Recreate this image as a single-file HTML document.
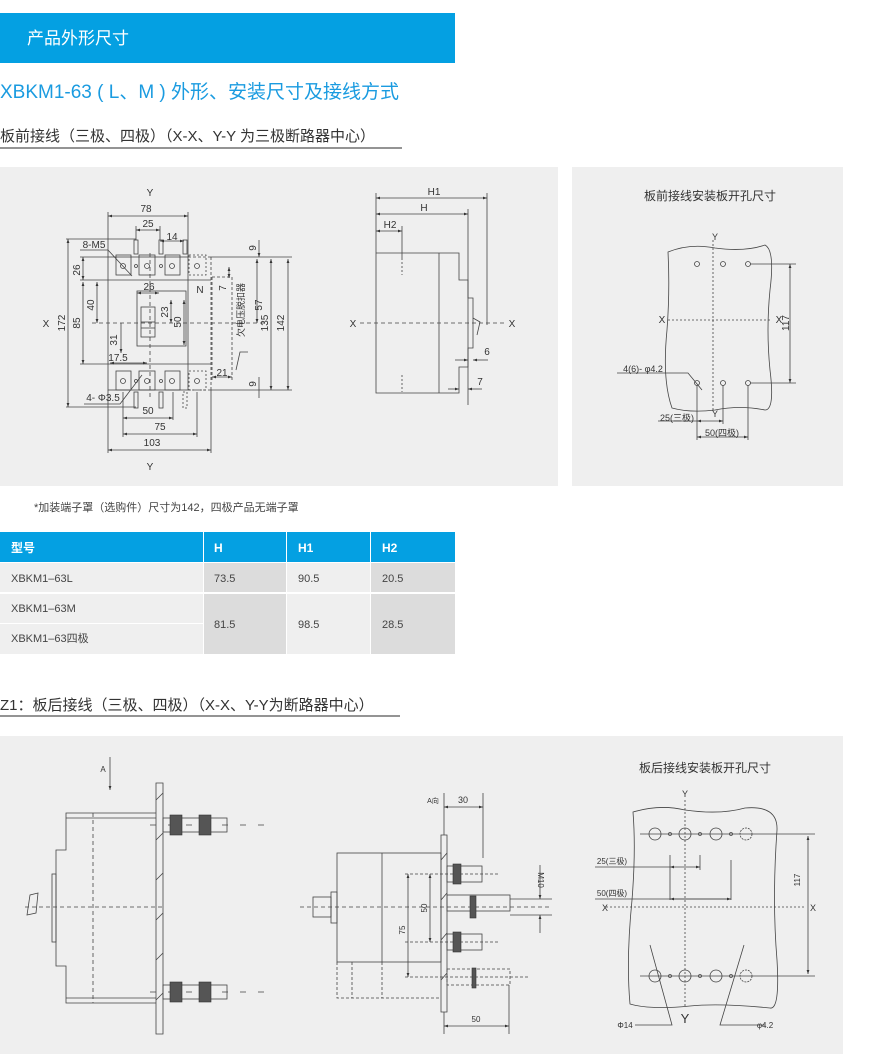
<!DOCTYPE html>
<html><head><meta charset="utf-8"><style>
html,body{margin:0;padding:0;background:#fff;}
svg{display:block;font-family:"Liberation Sans","Noto Sans CJK SC",sans-serif;}
</style></head><body>
<svg width="882" height="1056" viewBox="0 0 882 1056" xmlns="http://www.w3.org/2000/svg">
<defs>
<marker id="a" viewBox="0 0 10 10" refX="10" refY="5" markerWidth="5" markerHeight="5" orient="auto-start-reverse"><path d="M0,1.5L10,5L0,8.5z" fill="#333"/></marker>
</defs>
<rect x="0" y="13" width="455" height="50" fill="#04a0e2"/>
<text x="27" y="44" font-size="17" fill="#fff">产品外形尺寸</text>
<text x="0" y="98" font-size="19" fill="#1a9be0">XBKM1-63 ( L、M ) 外形、安装尺寸及接线方式</text>
<text x="0" y="141" font-size="15" fill="#333">板前接线（三极、四极）（X-X、Y-Y 为三极断路器中心）</text>
<line x1="0" y1="148" x2="402" y2="148" stroke="#555" stroke-width="1.2"/>

<rect x="0" y="167" width="558" height="319" fill="#efefef"/>
<rect x="572" y="167" width="271" height="319" fill="#efefef"/>
<rect x="0" y="736" width="843" height="318" fill="#efefef"/>

<g stroke="#444" stroke-width="0.8" fill="none">
<rect x="108" y="257" width="80" height="133"/>
<line x1="188" y1="257" x2="211" y2="257" stroke-dasharray="3,2"/>
<line x1="188" y1="390" x2="211" y2="390" stroke-dasharray="3,2"/>
<line x1="211" y1="257" x2="211" y2="390" stroke-dasharray="3,2"/>
<line x1="108" y1="280" x2="211" y2="280"/>
<line x1="108" y1="364" x2="211" y2="364"/>
<rect x="116" y="255" width="15" height="20"/><rect x="139" y="255" width="16" height="20"/><rect x="165" y="255" width="15" height="20"/>
<rect x="189" y="255" width="17" height="20" stroke-dasharray="2,2"/>
<rect x="116" y="371" width="15" height="19"/><rect x="139" y="371" width="16" height="19"/><rect x="165" y="371" width="15" height="19"/>
<rect x="189" y="371" width="17" height="19" stroke-dasharray="2,2"/>
<circle cx="123" cy="266" r="2.5"/><circle cx="147" cy="266" r="2.5"/><circle cx="172" cy="266" r="2.5"/><circle cx="197" cy="266" r="2.5"/>
<circle cx="123" cy="381" r="2.5"/><circle cx="147" cy="381" r="2.5"/><circle cx="172" cy="381" r="2.5"/><circle cx="197" cy="381" r="2.5"/>
<circle cx="136" cy="266" r="1.5"/><circle cx="161" cy="266" r="1.5"/><circle cx="136" cy="381" r="1.5"/><circle cx="161" cy="381" r="1.5"/>
<rect x="134" y="240" width="4" height="14"/><rect x="159" y="240" width="4" height="14"/><rect x="183" y="240" width="4" height="14"/>
<rect x="134" y="392" width="4" height="16"/><rect x="159" y="392" width="4" height="16"/><rect x="183" y="392" width="4" height="16" stroke-dasharray="2,2"/>
<rect x="137" y="291" width="49" height="55"/>
<rect x="141" y="307" width="14" height="30"/>
<line x1="141" y1="322" x2="155" y2="322"/><line x1="141" y1="328" x2="155" y2="328"/>
<line x1="212" y1="277" x2="212" y2="380" stroke-dasharray="3,2"/>
<line x1="232" y1="277" x2="232" y2="380" stroke-dasharray="3,2"/>
<line x1="212" y1="277" x2="232" y2="277" stroke-dasharray="3,2"/>
<line x1="92" y1="323" x2="268" y2="323" stroke-dasharray="4,3"/>
<line x1="150" y1="253" x2="150" y2="400" stroke-dasharray="4,3"/>
<line x1="108" y1="212" x2="108" y2="257"/><line x1="188" y1="212" x2="188" y2="257"/>
<line x1="108" y1="216" x2="188" y2="216" marker-start="url(#a)" marker-end="url(#a)"/>
<line x1="136" y1="226" x2="136" y2="240"/><line x1="160" y1="226" x2="160" y2="240"/>
<line x1="136" y1="230" x2="160" y2="230" marker-start="url(#a)" marker-end="url(#a)"/>
<line x1="160" y1="241" x2="184" y2="241" marker-start="url(#a)" marker-end="url(#a)"/>
<line x1="66" y1="239" x2="136" y2="239"/><line x1="66" y1="407" x2="136" y2="407"/>
<line x1="68" y1="239" x2="68" y2="407" marker-start="url(#a)" marker-end="url(#a)"/>
<line x1="80" y1="257" x2="108" y2="257"/><line x1="80" y1="280" x2="108" y2="280"/><line x1="80" y1="364" x2="108" y2="364"/>
<line x1="83" y1="257" x2="83" y2="280" marker-start="url(#a)" marker-end="url(#a)"/>
<line x1="83" y1="282" x2="83" y2="364" marker-start="url(#a)" marker-end="url(#a)"/>
<line x1="97" y1="282" x2="97" y2="323" marker-start="url(#a)" marker-end="url(#a)"/>
<line x1="121" y1="323" x2="121" y2="353" marker-end="url(#a)"/>
<line x1="110" y1="363" x2="147" y2="363" marker-start="url(#a)" marker-end="url(#a)"/>
<line x1="171" y1="300" x2="171" y2="323" marker-start="url(#a)" marker-end="url(#a)"/>
<line x1="184" y1="300" x2="184" y2="345" marker-start="url(#a)" marker-end="url(#a)"/>
<line x1="137" y1="293" x2="159" y2="293" marker-start="url(#a)" marker-end="url(#a)"/>
<line x1="259" y1="240" x2="259" y2="257" marker-end="url(#a)"/>
<line x1="211" y1="257" x2="292" y2="257"/><line x1="211" y1="390" x2="292" y2="390"/>
<line x1="229" y1="267" x2="229" y2="278" marker-start="url(#a)" marker-end="url(#a)"/>
<line x1="257" y1="259" x2="257" y2="323" marker-start="url(#a)" marker-end="url(#a)"/>
<line x1="271" y1="259" x2="271" y2="390" marker-start="url(#a)" marker-end="url(#a)"/>
<line x1="288" y1="259" x2="288" y2="390" marker-start="url(#a)" marker-end="url(#a)"/>
<line x1="259" y1="377" x2="259" y2="398"/>
<line x1="212" y1="377" x2="232" y2="377" marker-start="url(#a)" marker-end="url(#a)"/>
<line x1="123" y1="392" x2="123" y2="437"/><line x1="173" y1="392" x2="173" y2="420"/><line x1="197" y1="392" x2="197" y2="437"/>
<line x1="108" y1="390" x2="108" y2="453"/><line x1="211" y1="390" x2="211" y2="453"/>
<line x1="123" y1="418" x2="173" y2="418" marker-start="url(#a)" marker-end="url(#a)"/>
<line x1="123" y1="434" x2="197" y2="434" marker-start="url(#a)" marker-end="url(#a)"/>
<line x1="108" y1="450" x2="211" y2="450" marker-start="url(#a)" marker-end="url(#a)"/>
<polyline points="80,250 108,250 132,276"/>
<polyline points="84,404 120,404 142,375"/>
<polyline points="248,352 240,352 236,370"/>

<polyline points="376,253 459,253 459,280 468,280 468,298 473,298 473,348 468,348 468,367 459,367 459,393 376,393 376,253"/>
<line x1="439" y1="253" x2="439" y2="393"/>
<line x1="402" y1="258" x2="402" y2="275" stroke-dasharray="2,2"/>
<line x1="402" y1="375" x2="402" y2="392" stroke-dasharray="2,2"/>
<polyline points="473,318 480,322 477,335"/>
<line x1="360" y1="323" x2="505" y2="323" stroke-dasharray="4,3"/>
<line x1="376" y1="193" x2="376" y2="253"/><line x1="487" y1="193" x2="487" y2="325"/><line x1="468" y1="209" x2="468" y2="405"/><line x1="402" y1="226" x2="402" y2="258"/>
<line x1="376" y1="198" x2="487" y2="198" marker-start="url(#a)" marker-end="url(#a)"/>
<line x1="376" y1="214" x2="468" y2="214" marker-start="url(#a)" marker-end="url(#a)"/>
<line x1="376" y1="231" x2="402" y2="231" marker-start="url(#a)" marker-end="url(#a)"/>
<line x1="455" y1="360" x2="468" y2="360" marker-end="url(#a)"/><line x1="473" y1="360" x2="488" y2="360" marker-start="url(#a)"/>
<line x1="448" y1="389" x2="459" y2="389" marker-end="url(#a)"/><line x1="468" y1="389" x2="482" y2="389" marker-start="url(#a)"/>

<path d="M668,252 Q690,243 715,248 Q745,252 765,245 Q775,250 770,290 Q766,330 770,370 Q775,410 765,410 Q740,405 715,410 Q690,413 672,408 Q662,380 667,330 Q670,290 668,252z"/>
<line x1="713" y1="240" x2="713" y2="412" stroke-dasharray="2,2"/>
<line x1="668" y1="320" x2="772" y2="320" stroke-dasharray="2,2"/>
<circle cx="697" cy="264" r="2.5"/><circle cx="723" cy="264" r="2.5"/><circle cx="748" cy="264" r="2.5"/>
<circle cx="697" cy="383" r="2.5"/><circle cx="723" cy="383" r="2.5"/><circle cx="748" cy="383" r="2.5"/>
<line x1="750" y1="264" x2="796" y2="264"/><line x1="750" y1="383" x2="796" y2="383"/>
<line x1="790" y1="264" x2="790" y2="383" marker-start="url(#a)" marker-end="url(#a)"/>
<polyline points="617,373 688,373 702,390"/>
<line x1="697" y1="385" x2="697" y2="440"/><line x1="723" y1="385" x2="723" y2="424"/><line x1="748" y1="385" x2="748" y2="440"/>
<line x1="658" y1="421" x2="697" y2="421"/><line x1="697" y1="421" x2="723" y2="421" marker-start="url(#a)" marker-end="url(#a)"/>
<line x1="697" y1="437" x2="748" y2="437" marker-start="url(#a)" marker-end="url(#a)"/>

<line x1="110" y1="757" x2="110" y2="790" marker-end="url(#a)"/>
<polygon points="156,783 163,783 163,1034 156,1034"/>
<line x1="156" y1="800" x2="163" y2="793"/><line x1="156" y1="840" x2="163" y2="833"/><line x1="156" y1="880" x2="163" y2="873"/><line x1="156" y1="920" x2="163" y2="913"/><line x1="156" y1="960" x2="163" y2="953"/><line x1="156" y1="1000" x2="163" y2="993"/>
<polyline points="156,813 66,813 66,850 56,850 56,966 66,966 66,1003 156,1003"/>
<line x1="66" y1="818" x2="156" y2="818"/><line x1="66" y1="998" x2="156" y2="998"/>
<rect x="52" y="874" width="4" height="68"/>
<polygon points="27,915 30,895 38,893 36,913" />
<line x1="93" y1="813" x2="93" y2="1003" stroke-dasharray="4,3"/>
<line x1="25" y1="907" x2="163" y2="907" stroke-dasharray="4,3"/>
<rect x="163" y="818" width="64" height="14"/>
<line x1="150" y1="825" x2="275" y2="825" stroke-dasharray="6,12"/>
<rect x="163" y="985" width="64" height="14"/>
<line x1="150" y1="992" x2="275" y2="992" stroke-dasharray="6,12"/>
<rect x="337" y="853" width="104" height="109"/>
<line x1="382" y1="853" x2="382" y2="962"/>
<rect x="331" y="892" width="6" height="31"/>
<rect x="313" y="897" width="18" height="20"/>
<polyline points="337,962 337,998 441,998" stroke-dasharray="3,2"/>
<line x1="382" y1="962" x2="382" y2="998" stroke-dasharray="3,2"/>
<line x1="352" y1="962" x2="352" y2="998" stroke-dasharray="3,2"/>
<polygon points="441,835 447,835 447,1012 441,1012"/>
<line x1="441" y1="860" x2="447" y2="853"/><line x1="441" y1="900" x2="447" y2="893"/><line x1="441" y1="940" x2="447" y2="933"/><line x1="441" y1="980" x2="447" y2="973"/>
<rect x="447" y="866" width="35" height="16"/>
<rect x="447" y="895" width="63" height="16"/>
<rect x="447" y="934" width="35" height="16"/>
<rect x="447" y="969" width="63" height="16" stroke-dasharray="3,2"/>
<line x1="405" y1="874" x2="500" y2="874" stroke-dasharray="3,2"/>
<line x1="405" y1="942" x2="500" y2="942" stroke-dasharray="3,2"/>
<line x1="405" y1="977" x2="530" y2="977" stroke-dasharray="3,2"/>
<line x1="300" y1="907" x2="550" y2="907" stroke-dasharray="4,3"/>
<line x1="510" y1="899" x2="552" y2="899"/><line x1="510" y1="915" x2="552" y2="915"/>
<line x1="540" y1="865" x2="540" y2="899" marker-end="url(#a)"/><line x1="540" y1="933" x2="540" y2="915" marker-end="url(#a)"/>
<line x1="408" y1="874" x2="408" y2="977" marker-start="url(#a)" marker-end="url(#a)"/>
<line x1="430" y1="874" x2="430" y2="942" marker-start="url(#a)" marker-end="url(#a)"/>
<line x1="444" y1="793" x2="444" y2="835"/><line x1="483" y1="793" x2="483" y2="858"/>
<line x1="444" y1="807" x2="483" y2="807" marker-start="url(#a)" marker-end="url(#a)"/>
<line x1="444" y1="1012" x2="444" y2="1034"/><line x1="509" y1="985" x2="509" y2="1034"/>
<line x1="444" y1="1026" x2="509" y2="1026" marker-start="url(#a)" marker-end="url(#a)"/>
<path d="M633,812 Q660,804 685,810 Q720,815 745,808 Q778,805 777,830 Q772,900 777,960 Q780,1010 770,1008 Q720,1003 690,1006 Q650,1010 630,1004 Q626,960 632,900 Q636,850 633,812z"/>
<line x1="685" y1="800" x2="685" y2="1008" stroke-dasharray="2,2"/>
<line x1="606" y1="907" x2="805" y2="907" stroke-dasharray="2,2"/>
<circle cx="655" cy="834" r="6"/><circle cx="685" cy="834" r="6"/><circle cx="716" cy="834" r="6"/><circle cx="746" cy="834" r="6" stroke-dasharray="2,1"/>
<circle cx="670" cy="834" r="1.5"/><circle cx="700" cy="834" r="1.5"/><circle cx="731" cy="834" r="1.5"/>
<circle cx="655" cy="976" r="6"/><circle cx="685" cy="976" r="6"/><circle cx="716" cy="976" r="6"/><circle cx="746" cy="976" r="6" stroke-dasharray="2,1"/>
<circle cx="670" cy="976" r="1.5"/><circle cx="700" cy="976" r="1.5"/><circle cx="731" cy="976" r="1.5"/>
<line x1="640" y1="834" x2="815" y2="834"/><line x1="640" y1="976" x2="815" y2="976"/>
<line x1="808" y1="836" x2="808" y2="974" marker-start="url(#a)" marker-end="url(#a)"/>
<line x1="595" y1="867" x2="670" y2="867"/><line x1="670" y1="867" x2="700" y2="867" marker-start="url(#a)" marker-end="url(#a)"/>
<line x1="670" y1="855" x2="670" y2="900"/><line x1="700" y1="855" x2="700" y2="870"/>
<line x1="595" y1="899" x2="731" y2="899"/><line x1="731" y1="860" x2="731" y2="900"/>
<line x1="670" y1="899" x2="731" y2="899" marker-start="url(#a)" marker-end="url(#a)"/>
<polyline points="635,1025 672,1025 650,945"/>
<polyline points="765,1025 720,1025 744,945"/>
</g>
<g fill="#555" stroke="#333" stroke-width="0.6">
<rect x="170" y="815" width="12" height="20"/><rect x="199" y="815" width="12" height="20"/>
<rect x="170" y="982" width="12" height="20"/><rect x="199" y="982" width="12" height="20"/>
<rect x="453" y="864" width="8" height="20"/><rect x="470" y="896" width="6" height="22"/><rect x="453" y="932" width="8" height="20"/><rect x="472" y="968" width="4" height="20"/>
</g>

<g font-size="10" fill="#333" text-anchor="middle">
<text x="150" y="196">Y</text><text x="150" y="470">Y</text>
<text x="146" y="212">78</text><text x="148" y="227">25</text><text x="172" y="240">14</text>
<text x="94" y="248">8-M5</text>
<text x="46" y="327">X</text>
<text transform="translate(65,323) rotate(-90)">172</text>
<text transform="translate(80,270) rotate(-90)">26</text>
<text transform="translate(80,323) rotate(-90)">85</text>
<text transform="translate(94,305) rotate(-90)">40</text>
<text transform="translate(117,340) rotate(-90)">31</text>
<text x="118" y="361">17.5</text>
<text x="149" y="290">26</text>
<text transform="translate(168,312) rotate(-90)">23</text>
<text transform="translate(181,322) rotate(-90)">50</text>
<text x="200" y="293">N</text>
<text transform="translate(256,248) rotate(-90)">9</text>
<text transform="translate(226,288) rotate(-90)">7</text>
<text transform="translate(262,305) rotate(-90)">57</text>
<text transform="translate(268,323) rotate(-90)">135</text>
<text transform="translate(284,323) rotate(-90)">142</text>
<text transform="translate(256,384) rotate(-90)">9</text>
<text x="222" y="376">21</text>
<text x="103" y="401">4- Φ3.5</text>
<text x="148" y="414">50</text><text x="160" y="430">75</text><text x="152" y="446">103</text>
<text x="434" y="195">H1</text><text x="424" y="211">H</text><text x="390" y="228">H2</text>
<text x="353" y="327">X</text><text x="512" y="327">X</text>
<text x="487" y="355">6</text><text x="480" y="385">7</text>
<text x="715" y="240" font-size="9">Y</text><text x="715" y="417" font-size="9">Y</text>
<text x="662" y="323">X</text><text x="779" y="323">X</text>
<text transform="translate(789,323) rotate(-90)">117</text>
<text x="643" y="372" font-size="9">4(6)- φ4.2</text>
<text x="677" y="421" font-size="9">25(三极)</text>
<text x="722" y="436" font-size="9">50(四极)</text>
<text x="103" y="772" font-size="8">A</text>
<text x="433" y="803" font-size="7">A向</text>
<text x="463" y="803" font-size="9">30</text>
<text transform="translate(538,880) rotate(90)" font-size="8">M10</text>
<text transform="translate(405,930) rotate(-90)" font-size="8">75</text>
<text transform="translate(427,908) rotate(-90)" font-size="8">50</text>
<text x="476" y="1022" font-size="8">50</text>
<text x="685" y="797" font-size="9">Y</text>
<text x="685" y="1023" font-size="13">Y</text>
<text x="605" y="911" font-size="9">X</text><text x="813" y="911" font-size="9">X</text>
<text transform="translate(800,880) rotate(-90)" font-size="8">117</text>
<text x="612" y="864" font-size="8">25(三极)</text>
<text x="612" y="896" font-size="8">50(四极)</text>
<text x="625" y="1028" font-size="8">Φ14</text><text x="765" y="1028" font-size="8">φ4.2</text>
</g>
<text transform="translate(244,310) rotate(-90)" font-size="9" fill="#333" text-anchor="middle">欠电压脱扣器</text>
<text x="710" y="200" font-size="12" fill="#333" text-anchor="middle">板前接线安装板开孔尺寸</text>
<text x="705" y="772" font-size="12" fill="#333" text-anchor="middle">板后接线安装板开孔尺寸</text>

<text x="34" y="511" font-size="11" fill="#444">*加装端子罩（选购件）尺寸为142，四极产品无端子罩</text>

<rect x="0" y="532" width="203" height="30" fill="#04a0e2"/>
<rect x="204" y="532" width="82" height="30" fill="#04a0e2"/>
<rect x="287" y="532" width="83" height="30" fill="#04a0e2"/>
<rect x="371" y="532" width="84" height="30" fill="#04a0e2"/>
<g font-size="12" font-weight="bold" fill="#fff"><text x="11" y="552">型号</text><text x="214" y="552">H</text><text x="298" y="552">H1</text><text x="382" y="552">H2</text></g>
<rect x="0" y="563" width="203" height="29" fill="#efefef"/>
<rect x="204" y="563" width="82" height="29" fill="#dcdcdc"/>
<rect x="287" y="563" width="83" height="29" fill="#efefef"/>
<rect x="371" y="563" width="84" height="29" fill="#dcdcdc"/>
<rect x="0" y="594" width="203" height="29" fill="#efefef"/>
<rect x="0" y="624" width="203" height="30" fill="#efefef"/>
<rect x="204" y="594" width="82" height="60" fill="#dcdcdc"/>
<rect x="287" y="594" width="83" height="60" fill="#efefef"/>
<rect x="371" y="594" width="84" height="60" fill="#dcdcdc"/>
<g font-size="11" fill="#444">
<text x="11" y="582">XBKM1–63L</text><text x="214" y="582">73.5</text><text x="298" y="582">90.5</text><text x="382" y="582">20.5</text>
<text x="11" y="612">XBKM1–63M</text><text x="11" y="642">XBKM1–63四极</text>
<text x="214" y="628">81.5</text><text x="298" y="628">98.5</text><text x="382" y="628">28.5</text>
</g>

<text x="0" y="710" font-size="15" fill="#333">Z1：板后接线（三极、四极）（X-X、Y-Y为断路器中心）</text>
<line x1="0" y1="716" x2="400" y2="716" stroke="#555" stroke-width="1.2"/>
</svg>
</body></html>
